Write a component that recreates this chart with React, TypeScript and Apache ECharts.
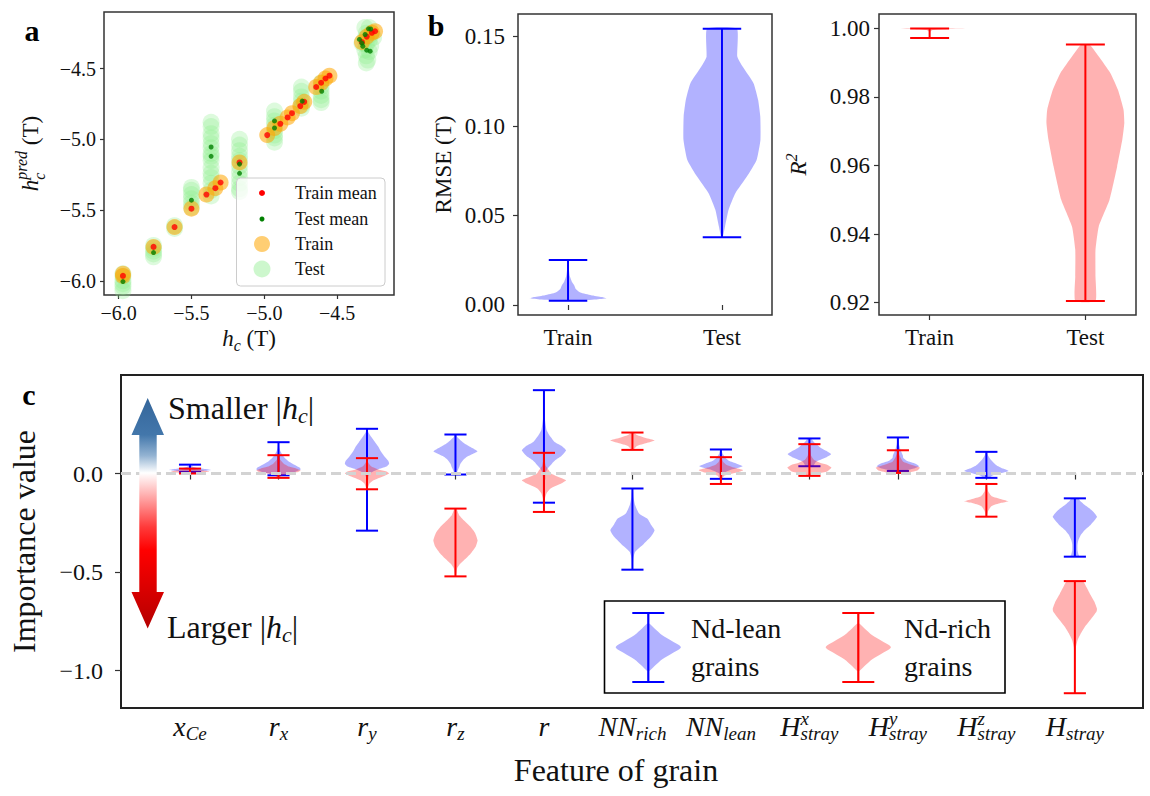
import React, { useEffect, useRef } from "react";
import * as echarts from "echarts";

const SERIF = "Liberation Serif";
const INK = "#111111";
const CAP = 0.125;

// ---------------- Panel a : predicted vs true coercivity ----------------
const hcTicks = [-6.0, -5.5, -5.0, -4.5];
const trainMeans: number[][] = [
  [-5.97, -5.965], [-5.76, -5.76], [-5.616, -5.62], [-5.5, -5.49], [-5.397, -5.39],
  [-5.336, -5.345], [-5.3, -5.305], [-5.17, -5.163], [-4.98, -4.97], [-4.89, -4.89],
  [-4.84, -4.845], [-4.81, -4.815], [-4.753, -4.765], [-4.726, -4.735], [-4.644, -4.63],
  [-4.61, -4.6], [-4.58, -4.57], [-4.553, -4.55], [-4.33, -4.313], [-4.297, -4.274],
  [-4.262, -4.247], [-4.24, -4.236],
];
const trainPoints: number[][] = [
  [-5.97, -5.965], [-5.97, -5.95], [-5.76, -5.76], [-5.616, -5.62], [-5.5, -5.49],
  [-5.397, -5.39], [-5.336, -5.345], [-5.3, -5.305], [-5.17, -5.163], [-4.98, -4.97],
  [-4.93, -4.92], [-4.89, -4.89], [-4.84, -4.845], [-4.81, -4.815], [-4.753, -4.765],
  [-4.726, -4.735], [-4.644, -4.63], [-4.61, -4.6], [-4.58, -4.57], [-4.553, -4.55],
  [-4.33, -4.313], [-4.297, -4.274], [-4.262, -4.247], [-4.24, -4.236],
];
const testMeans: number[][] = [
  [-5.97, -6.005], [-5.76, -5.8], [-5.5, -5.43], [-5.365, -5.054], [-5.365, -5.12],
  [-5.17, -5.175], [-5.17, -5.24], [-4.93, -4.87], [-4.93, -4.92], [-4.74, -4.73],
  [-4.606, -4.66], [-4.347, -4.294], [-4.308, -4.259], [-4.285, -4.219], [-4.27, -4.22],
  [-4.324, -4.342], [-4.297, -4.37], [-4.274, -4.377], [-4.33, -4.32],
];
const testPoints: number[][] = [
  [-5.97, -5.95], [-5.97, -5.97], [-5.97, -6.0], [-5.97, -6.02], [-5.97, -6.04], [-5.97, -6.07],
  [-5.76, -5.75], [-5.76, -5.77], [-5.76, -5.79], [-5.76, -5.81], [-5.76, -5.83],
  [-5.616, -5.61], [-5.616, -5.63],
  [-5.5, -5.34], [-5.5, -5.36], [-5.5, -5.39], [-5.5, -5.42], [-5.5, -5.45], [-5.5, -5.48],
  [-5.365, -4.88], [-5.365, -4.91], [-5.365, -4.96], [-5.365, -4.99], [-5.365, -5.03],
  [-5.365, -5.06], [-5.365, -5.1], [-5.365, -5.12], [-5.365, -5.15], [-5.365, -5.2],
  [-5.365, -5.24], [-5.365, -5.27], [-5.365, -5.31], [-5.365, -5.36], [-5.365, -5.4],
  [-5.17, -5.0], [-5.17, -5.04], [-5.17, -5.08], [-5.17, -5.12], [-5.17, -5.15],
  [-5.17, -5.19], [-5.17, -5.23], [-5.17, -5.27], [-5.17, -5.31], [-5.17, -5.35], [-5.17, -5.37],
  [-4.93, -4.8], [-4.93, -4.84], [-4.93, -4.87], [-4.93, -4.9], [-4.93, -4.94],
  [-4.93, -4.97], [-4.93, -4.99], [-4.93, -5.02],
  [-4.745, -4.63], [-4.745, -4.66], [-4.745, -4.7], [-4.745, -4.73], [-4.745, -4.76], [-4.745, -4.78],
  [-4.61, -4.6], [-4.61, -4.63], [-4.61, -4.66], [-4.61, -4.69], [-4.61, -4.72], [-4.61, -4.74],
  [-4.31, -4.21], [-4.28, -4.21], [-4.3, -4.25], [-4.27, -4.26], [-4.31, -4.29],
  [-4.28, -4.3], [-4.3, -4.33], [-4.27, -4.34], [-4.31, -4.37], [-4.28, -4.38],
  [-4.3, -4.41], [-4.29, -4.44], [-4.3, -4.46], [-4.33, -4.32], [-4.25, -4.28],
];

// ---------------- Panel b : RMSE and R^2 ----------------
const splitNames = ["Train", "Test"];
const rmseTicks = [0.0, 0.05, 0.1, 0.15];
const rmseMin = [0.0024, 0.0379];
const rmseMax = [0.0252, 0.1545];
const rmseProfiles: number[][][] = [
  [[0.0024, 0.06], [0.003, 0.18], [0.0037, 0.25], [0.0045, 0.22], [0.0055, 0.15], [0.007, 0.08],
   [0.009, 0.05], [0.011, 0.04], [0.013, 0.025], [0.016, 0.012], [0.02, 0.006], [0.0252, 0.003]],
  [[0.0379, 0.005], [0.0439, 0.02], [0.0532, 0.043], [0.0625, 0.087], [0.0718, 0.162],
   [0.0811, 0.225], [0.0923, 0.25], [0.1053, 0.249], [0.1146, 0.235], [0.124, 0.205],
   [0.1333, 0.134], [0.1388, 0.1], [0.1545, 0.097]],
];
const r2Ticks = [0.92, 0.94, 0.96, 0.98, 1.0];
const r2Min = [0.9972, 0.9205];
const r2Max = [1.0, 0.9953];
const r2Profiles: number[][][] = [
  [[0.9972, 0.002], [0.999, 0.004], [0.9995, 0.02], [0.9998, 0.12], [0.99995, 0.25], [1.0, 0.2]],
  [[0.9205, 0.065], [0.9276, 0.065], [0.9354, 0.065], [0.9422, 0.086], [0.95, 0.155],
   [0.9597, 0.204], [0.9675, 0.237], [0.9724, 0.25], [0.9763, 0.245], [0.9821, 0.209],
   [0.987, 0.16], [0.9918, 0.086], [0.9953, 0.026]],
];

// ---------------- Panel c : feature importance ----------------
const featureBase = ["x", "r", "r", "r", "r", "NN", "NN", "H", "H", "H", "H"];
const featureSup = ["", "", "", "", "", "", "", "x", "y", "z", ""];
const featureSub = ["Ce", "x", "y", "z", "", "rich", "lean", "stray", "stray", "stray", "stray"];
const importanceTicks = [-1.0, -0.5, 0.0];
const leanMin = [0.008, -0.009, -0.29, -0.005, -0.148, -0.488, -0.027, 0.037, 0.013, -0.022, -0.422];
const leanMax = [0.045, 0.159, 0.227, 0.198, 0.423, -0.076, 0.122, 0.178, 0.183, 0.11, -0.126];
const leanProfiles: number[][][] = [
  [[0.008, 0.03], [0.013, 0.15], [0.018, 0.24], [0.022, 0.2], [0.027, 0.1], [0.033, 0.04], [0.04, 0.015], [0.045, 0.005]],
  [[-0.009, 0.04], [0.0, 0.12], [0.01, 0.2], [0.02, 0.25], [0.03, 0.24], [0.045, 0.18], [0.06, 0.12],
   [0.075, 0.08], [0.09, 0.05], [0.11, 0.025], [0.13, 0.01], [0.159, 0.003]],
  [[-0.29, 0.004], [-0.1, 0.006], [-0.02, 0.01], [0.0, 0.03], [0.02, 0.12], [0.035, 0.22], [0.05, 0.25],
   [0.065, 0.24], [0.085, 0.2], [0.11, 0.16], [0.135, 0.13], [0.16, 0.09], [0.185, 0.05], [0.21, 0.015], [0.227, 0.004]],
  [[-0.005, 0.01], [0.01, 0.02], [0.03, 0.04], [0.05, 0.056], [0.07, 0.09], [0.085, 0.13], [0.1, 0.2],
   [0.113, 0.25], [0.125, 0.21], [0.135, 0.17], [0.15, 0.11], [0.169, 0.056], [0.185, 0.02], [0.198, 0.008]],
  [[-0.148, 0.004], [-0.05, 0.006], [0.0, 0.015], [0.025, 0.04], [0.05, 0.09], [0.068, 0.13], [0.09, 0.2],
   [0.118, 0.25], [0.14, 0.2], [0.16, 0.12], [0.186, 0.075], [0.22, 0.03], [0.28, 0.01], [0.423, 0.003]],
  [[-0.488, 0.004], [-0.43, 0.01], [-0.398, 0.03], [-0.356, 0.13], [-0.32, 0.21], [-0.288, 0.25],
   [-0.26, 0.21], [-0.23, 0.17], [-0.203, 0.075], [-0.16, 0.03], [-0.12, 0.012], [-0.076, 0.004]],
  [[-0.027, 0.005], [0.0, 0.02], [0.02, 0.12], [0.037, 0.245], [0.05, 0.18], [0.065, 0.09], [0.08, 0.05],
   [0.1, 0.02], [0.122, 0.005]],
  [[0.037, 0.04], [0.05, 0.06], [0.06, 0.075], [0.08, 0.18], [0.098, 0.245], [0.115, 0.19], [0.13, 0.13],
   [0.144, 0.094], [0.16, 0.05], [0.178, 0.02]],
  [[0.013, 0.06], [0.025, 0.18], [0.037, 0.24], [0.05, 0.2], [0.065, 0.1], [0.08, 0.06], [0.093, 0.056],
   [0.12, 0.03], [0.15, 0.012], [0.183, 0.004]],
  [[-0.022, 0.03], [-0.01, 0.07], [0.0, 0.15], [0.013, 0.25], [0.025, 0.19], [0.04, 0.12], [0.05, 0.094],
   [0.07, 0.05], [0.09, 0.02], [0.11, 0.005]],
  [[-0.422, 0.05], [-0.41, 0.04], [-0.39, 0.03], [-0.36, 0.03], [-0.339, 0.04], [-0.31, 0.07], [-0.288, 0.11],
   [-0.26, 0.18], [-0.22, 0.25], [-0.19, 0.2], [-0.165, 0.13], [-0.153, 0.094], [-0.14, 0.06], [-0.126, 0.04]],
];
const richMin = [0.0, -0.022, -0.08, -0.522, -0.195, 0.12, -0.053, -0.012, 0.003, -0.219, -1.115];
const richMax = [0.025, 0.093, 0.078, -0.178, 0.105, 0.208, 0.083, 0.149, 0.118, -0.053, -0.546];
const richProfiles: number[][][] = [
  [[0.0, 0.05], [0.005, 0.15], [0.01, 0.22], [0.013, 0.2], [0.018, 0.1], [0.025, 0.02]],
  [[-0.022, 0.01], [-0.01, 0.04], [0.0, 0.12], [0.008, 0.22], [0.015, 0.25], [0.025, 0.2], [0.035, 0.12],
   [0.05, 0.06], [0.07, 0.02], [0.093, 0.005]],
  [[-0.08, 0.005], [-0.05, 0.03], [-0.034, 0.075], [-0.015, 0.18], [0.0, 0.25], [0.01, 0.22], [0.02, 0.13],
   [0.035, 0.05], [0.055, 0.015], [0.078, 0.004]],
  [[-0.522, 0.004], [-0.48, 0.02], [-0.457, 0.056], [-0.43, 0.12], [-0.407, 0.17], [-0.37, 0.23], [-0.339, 0.25],
   [-0.3, 0.22], [-0.27, 0.17], [-0.237, 0.094], [-0.21, 0.04], [-0.178, 0.01]],
  [[-0.195, 0.004], [-0.13, 0.01], [-0.1, 0.03], [-0.076, 0.075], [-0.05, 0.2], [-0.034, 0.25], [-0.015, 0.15],
   [0.0, 0.08], [0.017, 0.056], [0.04, 0.02], [0.07, 0.008], [0.105, 0.003]],
  [[0.12, 0.01], [0.14, 0.05], [0.155, 0.16], [0.168, 0.25], [0.18, 0.15], [0.195, 0.05], [0.208, 0.01]],
  [[-0.053, 0.004], [-0.03, 0.01], [-0.01, 0.04], [0.005, 0.18], [0.017, 0.25], [0.03, 0.15], [0.045, 0.06],
   [0.06, 0.025], [0.083, 0.005]],
  [[-0.012, 0.03], [0.0, 0.1], [0.01, 0.2], [0.03, 0.25], [0.045, 0.2], [0.055, 0.12], [0.07, 0.05],
   [0.09, 0.02], [0.12, 0.008], [0.149, 0.003]],
  [[0.003, 0.1], [0.015, 0.22], [0.03, 0.25], [0.045, 0.15], [0.06, 0.06], [0.08, 0.03], [0.1, 0.012], [0.118, 0.004]],
  [[-0.219, 0.005], [-0.19, 0.02], [-0.165, 0.06], [-0.15, 0.16], [-0.141, 0.25], [-0.13, 0.17], [-0.115, 0.06],
   [-0.09, 0.02], [-0.053, 0.005]],
  [[-1.115, 0.003], [-0.95, 0.006], [-0.88, 0.012], [-0.847, 0.03], [-0.81, 0.07], [-0.78, 0.11], [-0.74, 0.18],
   [-0.7, 0.245], [-0.686, 0.25], [-0.65, 0.22], [-0.61, 0.17], [-0.576, 0.13], [-0.546, 0.09]],
];

const BLUE_FILL = "rgba(0,0,255,0.3)";
const RED_FILL = "rgba(255,0,0,0.3)";
const BLUE = "#0000ff";
const RED = "#ff0000";

const fmt = (d: number) => (v: number) => v.toFixed(d).replace("-", "\u2212");

const makeViolin = (profiles: number[][][], fill: string, stroke: string) => (params: any, api: any) => {
  const i = params.dataIndex;
  const pos = api.value(0) as number;
  const lo = api.value(1) as number;
  const hi = api.value(2) as number;
  const prof = profiles[i];
  const pts: number[][] = [];
  prof.forEach(([y, w]) => pts.push(api.coord([pos + w, y])));
  for (let k = prof.length - 1; k >= 0; k--) pts.push(api.coord([pos - prof[k][1], prof[k][0]]));
  const seg = (a: number[], b: number[]) => ({
    type: "line",
    shape: { x1: a[0], y1: a[1], x2: b[0], y2: b[1] },
    style: { stroke, lineWidth: 2 },
  });
  return {
    type: "group",
    children: [
      { type: "polygon", shape: { points: pts, smooth: 0.15 }, style: { fill } },
      seg(api.coord([pos, lo]), api.coord([pos, hi])),
      seg(api.coord([pos - CAP, hi]), api.coord([pos + CAP, hi])),
      seg(api.coord([pos - CAP, lo]), api.coord([pos + CAP, lo])),
    ],
  };
};

const violinData = (mins: number[], maxs: number[]) => mins.map((m, i) => [i + 1, m, maxs[i]]);

const tickStyle = { show: true, length: 5, lineStyle: { color: "#333", width: 1.2 } };
const gridBox = { show: true, borderColor: "#333", borderWidth: 1.5, backgroundColor: "transparent" };

const mathRich = (size: number, sub: number, line: number, drop: number) => {
  const base = { fontFamily: SERIF, color: INK, align: "left" };
  const small = line - 2 * drop;
  return {
    i: { ...base, fontSize: size, fontStyle: "italic", lineHeight: line, verticalAlign: "middle" },
    s: { ...base, fontSize: sub, fontStyle: "italic", lineHeight: small, verticalAlign: "bottom" },
    p: { ...base, fontSize: sub, fontStyle: "italic", lineHeight: small, verticalAlign: "top" },
    pz: { ...base, fontSize: sub, fontStyle: "italic", lineHeight: small, verticalAlign: "top", width: 0 },
    sz: { ...base, fontSize: sub, fontStyle: "italic", lineHeight: small, verticalAlign: "bottom", width: 0 },
    n: { ...base, fontSize: size, lineHeight: line, verticalAlign: "middle" },
  };
};

const featureLabel = (v: number) => {
  const k = Math.round(v) - 1;
  let s = `{i|${featureBase[k]}}`;
  if (featureSup[k]) s += `{pz|${featureSup[k]}}`;
  if (featureSub[k]) s += `{s|${featureSub[k]}}`;
  return s;
};

const legendViolin = (cx: number, cy: number, fill: string, stroke: string) => {
  const shape = [[0, -24], [6, -19], [14, -12], [24, -6], [31, -2], [32.6, 0], [31, 2], [24, 6], [14, 12], [6, 19], [0, 24],
    [-6, 19], [-14, 12], [-24, 6], [-31, 2], [-32.6, 0], [-31, -2], [-24, -6], [-14, -12], [-6, -19]];
  return [
    { type: "polygon", z: 101, shape: { points: shape.map(([x, y]) => [cx + x, cy + y]), smooth: 0.3 }, style: { fill } },
    { type: "line", z: 102, shape: { x1: cx, y1: 613, x2: cx, y2: 682 }, style: { stroke, lineWidth: 2.2 } },
    { type: "line", z: 102, shape: { x1: cx - 16, y1: 613, x2: cx + 16, y2: 613 }, style: { stroke, lineWidth: 2.2 } },
    { type: "line", z: 102, shape: { x1: cx - 16, y1: 682, x2: cx + 16, y2: 682 }, style: { stroke, lineWidth: 2.2 } },
  ];
};

export default function App() {
  const ref = useRef<HTMLDivElement>(null);
  useEffect(() => {
    if (!ref.current) return;
    const chart = echarts.init(ref.current, null, { renderer: "svg" });
    const option: any = {
      animation: false,
      backgroundColor: "#ffffff",
      textStyle: { fontFamily: SERIF, color: INK },
      grid: [
        { ...gridBox, left: 104, top: 12, width: 290, height: 283 },
        { ...gridBox, left: 518, top: 14, width: 254, height: 301 },
        { ...gridBox, left: 879, top: 14, width: 257, height: 301 },
        { ...gridBox, left: 121, top: 375, width: 1022, height: 333, borderColor: "#222", borderWidth: 2 },
      ],
      xAxis: [
        {
          type: "value", gridIndex: 0, min: -6.1, max: -4.11, splitLine: { show: false }, axisLine: { show: false },
          axisTick: { ...tickStyle, length: 4, customValues: hcTicks },
          axisLabel: { customValues: hcTicks, formatter: fmt(1), fontSize: 20, color: INK, fontFamily: SERIF, margin: 8 },
          name: "{i|h}{s|c}{n| (T)}", nameLocation: "middle", nameGap: 22,
          nameTextStyle: { fontSize: 23, fontFamily: SERIF, color: INK, lineHeight: 30, rich: mathRich(23, 16, 30, 6) },
        },
        {
          type: "value", gridIndex: 1, min: 0.675, max: 2.325, splitLine: { show: false }, axisLine: { show: false },
          axisTick: { ...tickStyle, customValues: [1, 2] },
          axisLabel: { customValues: [1, 2], formatter: (v: number) => splitNames[Math.round(v) - 1], fontSize: 23, color: INK, fontFamily: SERIF, margin: 11 },
        },
        {
          type: "value", gridIndex: 2, min: 0.675, max: 2.325, splitLine: { show: false }, axisLine: { show: false },
          axisTick: { ...tickStyle, customValues: [1, 2] },
          axisLabel: { customValues: [1, 2], formatter: (v: number) => splitNames[Math.round(v) - 1], fontSize: 23, color: INK, fontFamily: SERIF, margin: 11 },
        },
        {
          type: "value", gridIndex: 3, min: 0.22, max: 11.77, splitLine: { show: false }, axisLine: { show: false },
          axisTick: { ...tickStyle, length: 6, customValues: featureBase.map((_, i) => i + 1) },
          axisLabel: {
            customValues: featureBase.map((_, i) => i + 1), formatter: featureLabel, margin: 1,
            fontSize: 28, fontFamily: SERIF, color: INK, rich: mathRich(28, 19, 34, 12),
          },
          name: "Feature of grain", nameLocation: "middle", nameGap: 46,
          nameTextStyle: { fontSize: 32, fontFamily: SERIF, color: INK, padding: [0, 32, 0, 0] },
        },
      ],
      yAxis: [
        {
          type: "value", gridIndex: 0, min: -6.1, max: -4.1, splitLine: { show: false }, axisLine: { show: false },
          axisTick: { ...tickStyle, length: 4, customValues: hcTicks },
          axisLabel: { customValues: hcTicks, formatter: fmt(1), fontSize: 20, color: INK, fontFamily: SERIF, margin: 8 },
          name: "{i|h}{sz|c}{p|pred}{n| (T)}", nameLocation: "middle", nameGap: 57, nameRotate: 90,
          nameTextStyle: { fontSize: 23, fontFamily: SERIF, color: INK, lineHeight: 34, rich: mathRich(23, 16, 34, 10) },
        },
        {
          type: "value", gridIndex: 1, min: -0.0056, max: 0.1627, splitLine: { show: false }, axisLine: { show: false },
          axisTick: { ...tickStyle, customValues: rmseTicks },
          axisLabel: { customValues: rmseTicks, formatter: fmt(2), fontSize: 23, color: INK, fontFamily: SERIF, margin: 13 },
          name: "RMSE (T)", nameLocation: "middle", nameGap: 63, nameRotate: 90,
          nameTextStyle: { fontSize: 23, fontFamily: SERIF, color: INK },
        },
        {
          type: "value", gridIndex: 2, min: 0.9164, max: 1.0042, splitLine: { show: false }, axisLine: { show: false },
          axisTick: { ...tickStyle, customValues: r2Ticks },
          axisLabel: { customValues: r2Ticks, formatter: fmt(2), fontSize: 23, color: INK, fontFamily: SERIF, margin: 9 },
          name: "{i|R}{p|2}", nameLocation: "middle", nameGap: 66, nameRotate: 90,
          nameTextStyle: { fontSize: 23, fontFamily: SERIF, color: INK, lineHeight: 30, rich: mathRich(23, 16, 30, 7) },
        },
        {
          type: "value", gridIndex: 3, min: -1.19, max: 0.5, splitLine: { show: false }, axisLine: { show: false },
          axisTick: { ...tickStyle, length: 6, customValues: importanceTicks },
          axisLabel: { customValues: importanceTicks, formatter: fmt(1), fontSize: 24, color: INK, fontFamily: SERIF, margin: 18 },
          name: "Importance value", nameLocation: "middle", nameGap: 81, nameRotate: 90,
          nameTextStyle: { fontSize: 32, fontFamily: SERIF, color: INK },
        },
      ],
      series: [
        { type: "scatter", name: "Test", xAxisIndex: 0, yAxisIndex: 0, data: testPoints, symbolSize: 17, silent: true,
          itemStyle: { color: "#90ee90", opacity: 0.3 }, z: 2 },
        { type: "scatter", name: "Train", xAxisIndex: 0, yAxisIndex: 0, data: trainPoints, symbolSize: 16, silent: true,
          itemStyle: { color: "#ffa500", opacity: 0.55 }, z: 3 },
        { type: "scatter", name: "Train mean", xAxisIndex: 0, yAxisIndex: 0, data: trainMeans, symbolSize: 6, silent: true,
          itemStyle: { color: "#ff0000" }, z: 4 },
        { type: "scatter", name: "Test mean", xAxisIndex: 0, yAxisIndex: 0, data: testMeans, symbolSize: 5, silent: true,
          itemStyle: { color: "#008000" }, z: 5 },
        { type: "custom", name: "RMSE", xAxisIndex: 1, yAxisIndex: 1, data: violinData(rmseMin, rmseMax), silent: true,
          encode: { x: 0, y: [1, 2] }, renderItem: makeViolin(rmseProfiles, BLUE_FILL, BLUE) },
        { type: "custom", name: "R2", xAxisIndex: 2, yAxisIndex: 2, data: violinData(r2Min, r2Max), silent: true,
          encode: { x: 0, y: [1, 2] }, renderItem: makeViolin(r2Profiles, RED_FILL, RED) },
        { type: "custom", name: "Nd-lean grains", xAxisIndex: 3, yAxisIndex: 3, data: violinData(leanMin, leanMax), silent: true,
          encode: { x: 0, y: [1, 2] }, renderItem: makeViolin(leanProfiles, BLUE_FILL, BLUE), z: 3 },
        { type: "custom", name: "Nd-rich grains", xAxisIndex: 3, yAxisIndex: 3, data: violinData(richMin, richMax), silent: true,
          encode: { x: 0, y: [1, 2] }, renderItem: makeViolin(richProfiles, RED_FILL, RED), z: 4 },
        { type: "line", name: "zero", xAxisIndex: 3, yAxisIndex: 3, data: [], z: 10, silent: true,
          markLine: { silent: true, symbol: "none", label: { show: false }, data: [{ yAxis: 0 }],
            lineStyle: { color: "#d3d3d3", width: 3, type: [10, 5] } } },
      ],
      graphic: [
        { type: "text", x: 32, y: 30, z: 100, style: { text: "a", fontSize: 30, fontWeight: "bold", fontFamily: SERIF, fill: "#000", align: "center", verticalAlign: "middle" } },
        { type: "text", x: 436, y: 25, z: 100, style: { text: "b", fontSize: 30, fontWeight: "bold", fontFamily: SERIF, fill: "#000", align: "center", verticalAlign: "middle" } },
        { type: "text", x: 29, y: 394, z: 100, style: { text: "c", fontSize: 30, fontWeight: "bold", fontFamily: SERIF, fill: "#000", align: "center", verticalAlign: "middle" } },
        // panel a legend
        { type: "rect", z: 100, shape: { x: 236.5, y: 178, width: 148.5, height: 108, r: 4 }, style: { fill: "rgba(255,255,255,0.8)", stroke: "#cccccc", lineWidth: 1 } },
        { type: "circle", z: 101, shape: { cx: 262, cy: 193, r: 3 }, style: { fill: "#ff0000" } },
        { type: "circle", z: 101, shape: { cx: 262, cy: 219, r: 2.5 }, style: { fill: "#008000" } },
        { type: "circle", z: 101, shape: { cx: 262, cy: 244, r: 8 }, style: { fill: "#ffa500", opacity: 0.55 } },
        { type: "circle", z: 101, shape: { cx: 262, cy: 269, r: 8.5 }, style: { fill: "#90ee90", opacity: 0.45 } },
        { type: "text", z: 101, x: 295, y: 193, style: { text: "Train mean", fontSize: 18, fontFamily: SERIF, fill: INK, verticalAlign: "middle" } },
        { type: "text", z: 101, x: 295, y: 219, style: { text: "Test mean", fontSize: 18, fontFamily: SERIF, fill: INK, verticalAlign: "middle" } },
        { type: "text", z: 101, x: 295, y: 244, style: { text: "Train", fontSize: 18, fontFamily: SERIF, fill: INK, verticalAlign: "middle" } },
        { type: "text", z: 101, x: 295, y: 269, style: { text: "Test", fontSize: 18, fontFamily: SERIF, fill: INK, verticalAlign: "middle" } },
        // panel c gradient arrow
        {
          type: "polygon", z: 100,
          shape: { points: [[147.7, 398], [164, 435], [156.7, 435], [156.7, 592], [164, 592], [147.7, 628.5], [131.5, 592], [139.3, 592], [139.3, 435], [131.5, 435]] },
          style: {
            fill: new echarts.graphic.LinearGradient(0, 0, 0, 1, [
              { offset: 0, color: "#34659a" }, { offset: 0.16, color: "#4377ab" }, { offset: 0.25, color: "#93b3d2" },
              { offset: 0.325, color: "#ffffff" }, { offset: 0.42, color: "#ffb0b0" }, { offset: 0.56, color: "#ff3a3a" },
              { offset: 0.66, color: "#ff0000" }, { offset: 0.8, color: "#e00000" }, { offset: 1, color: "#b40000" },
            ]),
          },
        },
        { type: "text", z: 100, x: 168, y: 408, style: { text: "{n|Smaller |}{i|h}{s|c}{n||}", fontSize: 32, fontFamily: SERIF, fill: INK, verticalAlign: "middle", rich: mathRich(32, 22, 36, 11) } },
        { type: "text", z: 100, x: 167, y: 627, style: { text: "{n|Larger |}{i|h}{s|c}{n||}", fontSize: 32, fontFamily: SERIF, fill: INK, verticalAlign: "middle", rich: mathRich(32, 22, 36, 11) } },
        // panel c legend
        { type: "rect", z: 100, shape: { x: 604.5, y: 601, width: 400.5, height: 92 }, style: { fill: "#ffffff", stroke: "#000", lineWidth: 1.6 } },
        ...legendViolin(648.3, 647.3, BLUE_FILL, BLUE),
        ...legendViolin(858.3, 647.3, RED_FILL, RED),
        { type: "text", z: 101, x: 691, y: 647.6, style: { text: "Nd-lean\ngrains", fontSize: 28, lineHeight: 38, fontFamily: SERIF, fill: INK, verticalAlign: "middle" } },
        { type: "text", z: 101, x: 904, y: 647.6, style: { text: "Nd-rich\ngrains", fontSize: 28, lineHeight: 38, fontFamily: SERIF, fill: INK, verticalAlign: "middle" } },
      ],
    };
    chart.setOption(option);
    return () => chart.dispose();
  }, []);
  return <div ref={ref} style={{ position: "fixed", left: 0, top: 0, width: 1150, height: 796 }} />;
}
